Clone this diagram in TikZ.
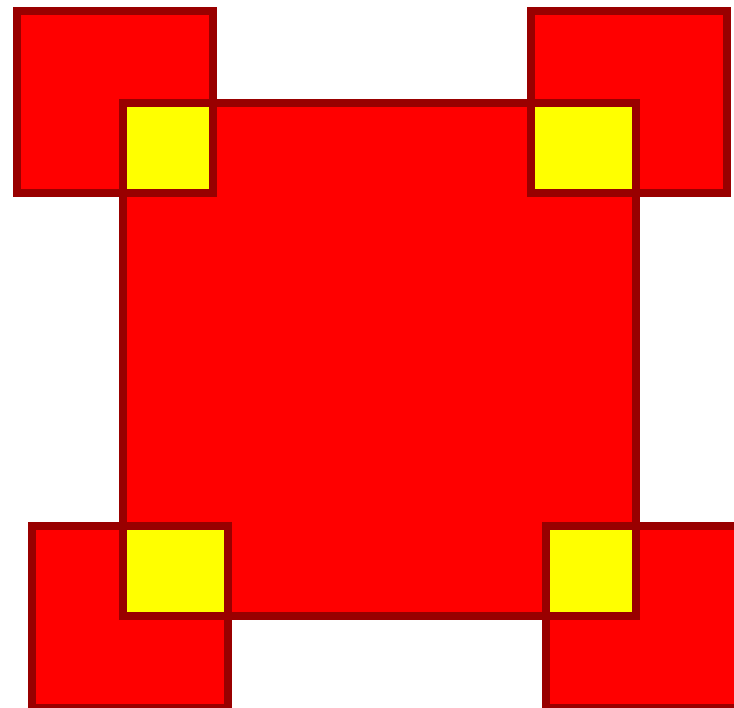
\documentclass[tikz,border=0pt]{standalone}
\definecolor{boxred}{HTML}{FF0000}
\definecolor{boxedge}{HTML}{990000}
\definecolor{boxyellow}{HTML}{FFFF00}
\begin{document}
\begin{tikzpicture}[x=1pt,y=-1pt,
  redfill/.style={fill=boxred},
  yellowfill/.style={fill=boxyellow},
  edge/.style={draw=boxedge,line width=8pt,line join=miter}]
\fill[white] (0,0) rectangle (734,708);
\useasboundingbox (0,0) rectangle (734,708);
% fills
\fill[redfill] (16.7,11.3) rectangle (213,192.7);
\fill[redfill] (530.7,11.3) rectangle (726.7,192.7);
\fill[redfill] (32.3,526) rectangle (228.3,707.5);
\fill[redfill] (546,526) rectangle (742,707.5);
\fill[redfill] (122.8,102.7) rectangle (636.2,616.2);
% overlaps
\fill[yellowfill] (122.8,102.7) rectangle (213,192.7);
\fill[yellowfill] (530.7,102.7) rectangle (636.2,192.7);
\fill[yellowfill] (122.8,526) rectangle (228.3,616.2);
\fill[yellowfill] (546,526) rectangle (636.2,616.2);
% outlines
\draw[edge] (16.7,11.3) rectangle (213,192.7);
\draw[edge] (530.7,11.3) rectangle (726.7,192.7);
\draw[edge] (32.3,526) rectangle (228.3,707.5);
\draw[edge] (546,526) rectangle (742,707.5);
\draw[edge] (122.8,102.7) rectangle (636.2,616.2);
\end{tikzpicture}
\end{document}
